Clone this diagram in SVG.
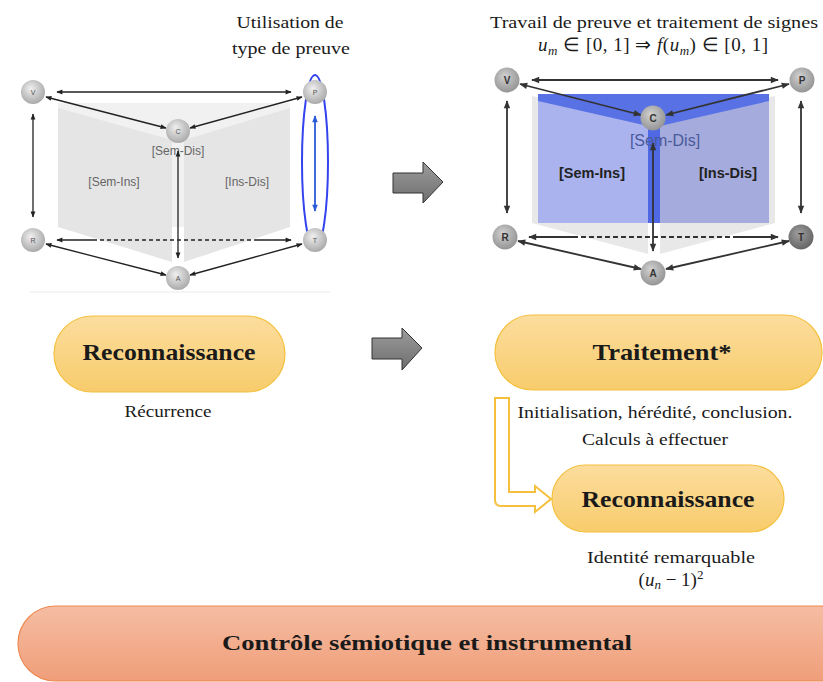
<svg xmlns="http://www.w3.org/2000/svg" width="823" height="682" viewBox="0 0 823 682">
<defs>
<style>
.serif{font-family:"Liberation Serif","Times New Roman",serif;fill:#1a1a1a}
.sans{font-family:"Liberation Sans",Arial,sans-serif}
.ln{stroke:#222;stroke-width:1.3;fill:none}
.ln2{stroke:#333;stroke-width:1.8;fill:none}
.nl{font-family:"Liberation Sans",Arial,sans-serif;font-size:7px;fill:#555;text-anchor:middle}
.nl2{font-family:"Liberation Sans",Arial,sans-serif;font-size:10px;font-weight:bold;fill:#333;text-anchor:middle}
</style>
<radialGradient id="gc" cx="0.45" cy="0.4" r="0.6" fx="0.4" fy="0.35">
<stop offset="0" stop-color="#f0f0f0"/><stop offset="1" stop-color="#aaaaaa"/>
</radialGradient>
<radialGradient id="gc2" cx="0.45" cy="0.4" r="0.6" fx="0.4" fy="0.35">
<stop offset="0" stop-color="#d2d2d2"/><stop offset="1" stop-color="#959595"/>
</radialGradient>
<radialGradient id="gcd" cx="0.45" cy="0.4" r="0.6" fx="0.4" fy="0.35">
<stop offset="0" stop-color="#a0a0a0"/><stop offset="1" stop-color="#656565"/>
</radialGradient>
<linearGradient id="gy" x1="0" y1="0" x2="0" y2="1">
<stop offset="0" stop-color="#fcdd9e"/><stop offset="1" stop-color="#f8cc6c"/>
</linearGradient>
<linearGradient id="go" x1="0" y1="0" x2="0" y2="1">
<stop offset="0" stop-color="#f5bda3"/><stop offset="1" stop-color="#f09e79"/>
</linearGradient>
<linearGradient id="gg" x1="0" y1="0" x2="0" y2="1">
<stop offset="0" stop-color="#9c9c9c"/><stop offset="1" stop-color="#6e6e6e"/>
</linearGradient>
<marker id="ah" viewBox="0 0 10 10" refX="9" refY="5" markerWidth="7" markerHeight="6" markerUnits="userSpaceOnUse" orient="auto-start-reverse">
<path d="M0,1 L10,5 L0,9 z" fill="#222"/>
</marker>
<marker id="ah2" viewBox="0 0 10 10" refX="9" refY="5" markerWidth="9" markerHeight="8" markerUnits="userSpaceOnUse" orient="auto-start-reverse">
<path d="M0,1 L10,5 L0,9 z" fill="#333"/>
</marker>
<marker id="ahb" viewBox="0 0 10 10" refX="9" refY="5" markerWidth="8" markerHeight="7" markerUnits="userSpaceOnUse" orient="auto-start-reverse">
<path d="M0,1 L10,5 L0,9 z" fill="#2a5bd7"/>
</marker>
</defs>
<rect width="823" height="682" fill="#ffffff"/>

<!-- Left diagram panels -->
<g id="left-panels">
<rect x="58" y="103" width="232" height="124" fill="#f1f1f1"/>
<polygon points="58,108 172,140 172,262 58,227" fill="#e5e5e5"/>
<polygon points="184,140 290,108 290,227 184,262" fill="#e5e5e5"/>
<line x1="30" y1="292" x2="330" y2="292" stroke="#f2f2f2" stroke-width="1.5"/>
<text class="sans" x="178" y="155" font-size="12" fill="#666" text-anchor="middle">[Sem-Dis]</text>
<text class="sans" x="114" y="186" font-size="12" fill="#666" text-anchor="middle">[Sem-Ins]</text>
<text class="sans" x="247" y="186" font-size="12" fill="#666" text-anchor="middle">[Ins-Dis]</text>
</g>

<!-- Right diagram panels -->
<g id="right-panels">
<polygon points="532,96 648,120 648,254 532,223" fill="#e8e8e8"/>
<polygon points="660,120 775,96 775,223 660,254" fill="#e8e8e8"/>
<polygon points="538,100 648,124 648,223 538,223" fill="#aab3ee"/>
<polygon points="660,124 769,100 769,223 660,223" fill="#a5abdc"/>
<polygon points="538,94 769,94 769,101 660,126 648,126 538,101" fill="#5872e6"/>
<rect x="648" y="118" width="12" height="105" fill="#4f69e4"/>
<text class="sans" x="665" y="146" font-size="16" fill="#4a5a9a" text-anchor="middle">[Sem-Dis]</text>
<text class="sans" x="592" y="178" font-size="14.5" font-weight="bold" fill="#222" text-anchor="middle">[Sem-Ins]</text>
<text class="sans" x="728" y="178" font-size="14.5" font-weight="bold" fill="#222" text-anchor="middle">[Ins-Dis]</text>
</g>

<!-- Connectors -->
<g id="connectors">
<path class="ln" d="M57,92 H291" marker-start="url(#ah)" marker-end="url(#ah)"/>
<path class="ln" d="M46,97 L166,128" marker-start="url(#ah)" marker-end="url(#ah)"/>
<path class="ln" d="M302,97 L190,128" marker-start="url(#ah)" marker-end="url(#ah)"/>
<path class="ln" d="M33,114 V217" stroke-width="1.6" marker-start="url(#ah)" marker-end="url(#ah)"/>
<path d="M315,116 V211" stroke="#2a5bd7" stroke-width="1.8" fill="none" marker-start="url(#ahb)" marker-end="url(#ahb)"/>
<path class="ln" d="M178,151 V258" stroke-width="1.6" marker-start="url(#ah)" marker-end="url(#ah)"/>
<path class="ln" d="M57,240 H93" marker-start="url(#ah)"/>
<path class="ln" d="M93,240 H257" stroke-dasharray="4 3"/>
<path class="ln" d="M257,240 H291" marker-end="url(#ah)"/>
<path class="ln" d="M46,244 L166,275" marker-start="url(#ah)" marker-end="url(#ah)"/>
<path class="ln" d="M302,244 L190,275" marker-start="url(#ah)" marker-end="url(#ah)"/>

<path class="ln2" d="M532,80 H778" marker-start="url(#ah2)" marker-end="url(#ah2)"/>
<path class="ln2" d="M520,84 L641,115" marker-start="url(#ah2)" marker-end="url(#ah2)"/>
<path class="ln2" d="M789,84 L666,115" marker-start="url(#ah2)" marker-end="url(#ah2)"/>
<path class="ln2" d="M507,101 V213" stroke-width="2.2" marker-start="url(#ah2)" marker-end="url(#ah2)"/>
<path class="ln2" d="M801,101 V213" stroke-width="2.2" marker-start="url(#ah2)" marker-end="url(#ah2)"/>
<path class="ln2" d="M653,143 V251" stroke-width="2.4" marker-start="url(#ah2)" marker-end="url(#ah2)"/>
<path class="ln2" d="M529,237 H573" marker-start="url(#ah2)"/>
<path class="ln2" d="M573,237 H733" stroke-dasharray="5 3"/>
<path class="ln2" d="M733,237 H778" marker-end="url(#ah2)"/>
<path class="ln2" d="M518,241 L641,269" marker-start="url(#ah2)" marker-end="url(#ah2)"/>
<path class="ln2" d="M789,241 L666,269" marker-start="url(#ah2)" marker-end="url(#ah2)"/>

<path d="M495,398 H509 V492 H535 V486 L551,499 L535,512 V506 H501 Q495,506 495,500 Z" fill="#ffffff" stroke="#f4c03e" stroke-width="2" stroke-linejoin="miter"/>
</g>

<ellipse id="highlight-PT" cx="315" cy="162" rx="13" ry="87" fill="none" stroke="#3344ee" stroke-width="2"/>

<!-- Left nodes -->
<g id="L-V"><circle cx="33" cy="92" r="12" fill="url(#gc)"/><text class="nl" x="33" y="94.5">V</text></g>
<g id="L-P"><circle cx="315" cy="92" r="12" fill="url(#gc)"/><text class="nl" x="315" y="94.5">P</text></g>
<g id="L-C"><circle cx="178" cy="131" r="12" fill="url(#gc)"/><text class="nl" x="178" y="133.5">C</text></g>
<g id="L-R"><circle cx="33" cy="240" r="12" fill="url(#gc)"/><text class="nl" x="33" y="242.5">R</text></g>
<g id="L-T"><circle cx="315" cy="240" r="12" fill="url(#gc)"/><text class="nl" x="315" y="242.5">T</text></g>
<g id="L-A"><circle cx="178" cy="278" r="12" fill="url(#gc)"/><text class="nl" x="178" y="280.5">A</text></g>

<!-- Right nodes -->
<g id="R-V"><circle cx="507" cy="80" r="12.5" fill="url(#gc2)"/><text class="nl2" x="507" y="83.5">V</text></g>
<g id="R-P"><circle cx="802" cy="80" r="12.5" fill="url(#gc2)"/><text class="nl2" x="802" y="83.5">P</text></g>
<g id="R-C"><circle cx="653" cy="118" r="12.5" fill="url(#gc2)"/><text class="nl2" x="653" y="121.5">C</text></g>
<g id="R-R"><circle cx="505" cy="237" r="12.5" fill="url(#gc2)"/><text class="nl2" x="505" y="240.5">R</text></g>
<g id="R-T"><circle cx="801" cy="237" r="12.5" fill="url(#gcd)"/><text class="nl2" x="801" y="240.5">T</text></g>
<g id="R-A"><circle cx="653" cy="273" r="12.5" fill="url(#gc2)"/><text class="nl2" x="653" y="276.5">A</text></g>

<!-- Titles -->
<g id="title-left">
<text class="serif" x="290" y="28" font-size="17" text-anchor="middle" textLength="107" lengthAdjust="spacingAndGlyphs">Utilisation de</text>
<text class="serif" x="291" y="54" font-size="17" text-anchor="middle" textLength="118" lengthAdjust="spacingAndGlyphs">type de preuve</text>
</g>
<g id="title-right">
<text class="serif" x="654" y="28" font-size="17" text-anchor="middle" textLength="328" lengthAdjust="spacingAndGlyphs">Travail de preuve et traitement de signes</text>
<text class="serif" x="653" y="51" font-size="19" text-anchor="middle" textLength="230" lengthAdjust="spacing"><tspan font-style="italic">u</tspan><tspan font-style="italic" font-size="13" dy="4">m</tspan><tspan dy="-4"> ∈ [0, 1] ⇒ </tspan><tspan font-style="italic">f</tspan>(<tspan font-style="italic">u</tspan><tspan font-style="italic" font-size="13" dy="4">m</tspan><tspan dy="-4">) ∈ [0, 1]</tspan></text>
</g>

<!-- Block arrows -->
<g id="arrow-top"><path d="M393,173 H423 V162 L443,182 L423,203 V193 H393 Z" fill="url(#gg)" stroke="#333" stroke-width="1"/></g>
<g id="arrow-bottom"><path d="M372,338 H402 V328 L422,348 L402,370 V359 H372 Z" fill="url(#gg)" stroke="#333" stroke-width="1"/></g>

<!-- Pills -->
<g id="reconnaissance-left">
<rect x="54" y="316" width="231" height="76" rx="38" fill="url(#gy)" stroke="#f4c03e" stroke-width="1.2"/>
<text class="serif" x="169" y="360" font-size="24" font-weight="bold" text-anchor="middle" textLength="173" lengthAdjust="spacingAndGlyphs">Reconnaissance</text>
</g>
<text class="serif" x="168" y="417" font-size="17" text-anchor="middle" textLength="87" lengthAdjust="spacingAndGlyphs">Récurrence</text>

<g id="traitement">
<rect x="495" y="315" width="327" height="75" rx="37.5" fill="url(#gy)" stroke="#f4c03e" stroke-width="1.2"/>
<text class="serif" x="662" y="360" font-size="24" font-weight="bold" text-anchor="middle" textLength="139" lengthAdjust="spacingAndGlyphs">Traitement*</text>
</g>
<text class="serif" x="655" y="418" font-size="17" text-anchor="middle" textLength="275" lengthAdjust="spacingAndGlyphs">Initialisation, hérédité, conclusion.</text>
<text class="serif" x="655" y="445" font-size="17" text-anchor="middle" textLength="146" lengthAdjust="spacingAndGlyphs">Calculs à effectuer</text>

<g id="reconnaissance-right">
<rect x="552" y="465" width="232" height="67" rx="33.5" fill="url(#gy)" stroke="#f4c03e" stroke-width="1.2"/>
<text class="serif" x="668" y="507" font-size="24" font-weight="bold" text-anchor="middle" textLength="173" lengthAdjust="spacingAndGlyphs">Reconnaissance</text>
</g>
<text class="serif" x="671" y="563" font-size="17" text-anchor="middle" textLength="168" lengthAdjust="spacingAndGlyphs">Identité remarquable</text>
<text class="serif" x="671" y="586" font-size="19" text-anchor="middle">(<tspan font-style="italic">u</tspan><tspan font-style="italic" font-size="13" dy="3">n</tspan><tspan dy="-3"> − 1)</tspan><tspan font-size="13" dy="-7">2</tspan></text>

<g id="controle">
<rect x="18" y="606" width="840" height="75" rx="37.5" fill="url(#go)" stroke="#ee8a50" stroke-width="1.2"/>
<text class="serif" x="427" y="650" font-size="22" font-weight="bold" text-anchor="middle" textLength="410" lengthAdjust="spacingAndGlyphs">Contrôle sémiotique et instrumental</text>
</g>
</svg>
